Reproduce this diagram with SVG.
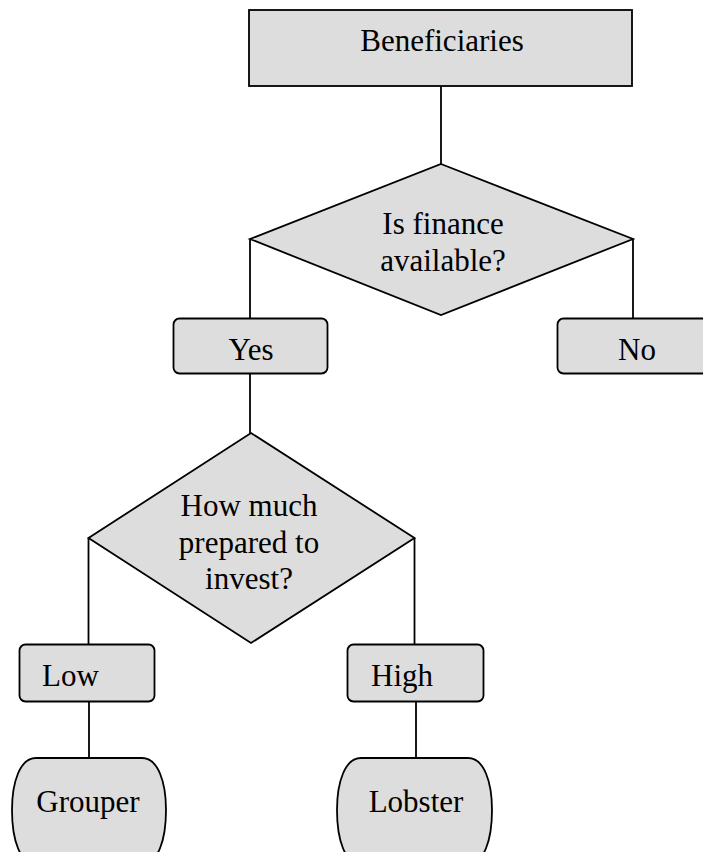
<svg xmlns="http://www.w3.org/2000/svg" width="703" height="852" viewBox="0 0 703 852">
<style>
.s{fill:#dddddd;stroke:#000;stroke-width:1.8}
.c{fill:none;stroke:#000;stroke-width:1.8}
text{font-family:"Liberation Serif","Times New Roman",serif;font-size:31px;fill:#000}
.m{text-anchor:middle}
</style>
<rect width="703" height="852" fill="#fff"/>
<g id="connectors">
<line class="c" x1="441" y1="86" x2="441" y2="164"/>
<line class="c" x1="250" y1="239" x2="250" y2="318"/>
<line class="c" x1="633" y1="239" x2="633" y2="318"/>
<line class="c" x1="250" y1="373" x2="250" y2="433"/>
<line class="c" x1="88.5" y1="538" x2="88.5" y2="644"/>
<line class="c" x1="414.5" y1="538" x2="414.5" y2="644"/>
<line class="c" x1="89" y1="702" x2="89" y2="758"/>
<line class="c" x1="416" y1="702" x2="416" y2="758"/>
</g>
<g id="beneficiaries">
<rect class="s" x="249" y="10" width="383" height="76"/>
<text class="m" x="442" y="51">Beneficiaries</text>
</g>
<g id="finance">
<polygon class="s" points="441,164 633,239 441,315 250,239"/>
<text class="m" x="443" y="234">Is finance</text>
<text class="m" x="443" y="271">available?</text>
</g>
<g id="yes">
<rect class="s" x="173.5" y="318.5" width="154" height="55" rx="6"/>
<text class="m" x="251" y="360">Yes</text>
</g>
<g id="no">
<rect class="s" x="557.5" y="318.5" width="160" height="55" rx="6"/>
<text class="m" x="637" y="360">No</text>
</g>
<g id="invest">
<polygon class="s" points="251,433 414.5,538 251,643 88.5,538"/>
<text class="m" x="249" y="516">How much</text>
<text class="m" x="249" y="553">prepared to</text>
<text class="m" x="249" y="589">invest?</text>
</g>
<g id="low">
<rect class="s" x="19.5" y="644.5" width="135" height="57" rx="6"/>
<text x="42" y="686">Low</text>
</g>
<g id="high">
<rect class="s" x="347.5" y="644.5" width="136" height="57" rx="6"/>
<text x="371" y="686">High</text>
</g>
<g id="grouper">
<path class="s" d="M36,758 H142 C158,758 166,782 166,810 C166,840 158,864 142,864 H36 C20,864 12,840 12,810 C12,782 20,758 36,758 Z"/>
<text class="m" x="88" y="812">Grouper</text>
</g>
<g id="lobster">
<path class="s" d="M361,758 H468 C484,758 492,782 492,810 C492,840 484,864 468,864 H361 C345,864 337,840 337,810 C337,782 345,758 361,758 Z"/>
<text class="m" x="416" y="812">Lobster</text>
</g>
</svg>
